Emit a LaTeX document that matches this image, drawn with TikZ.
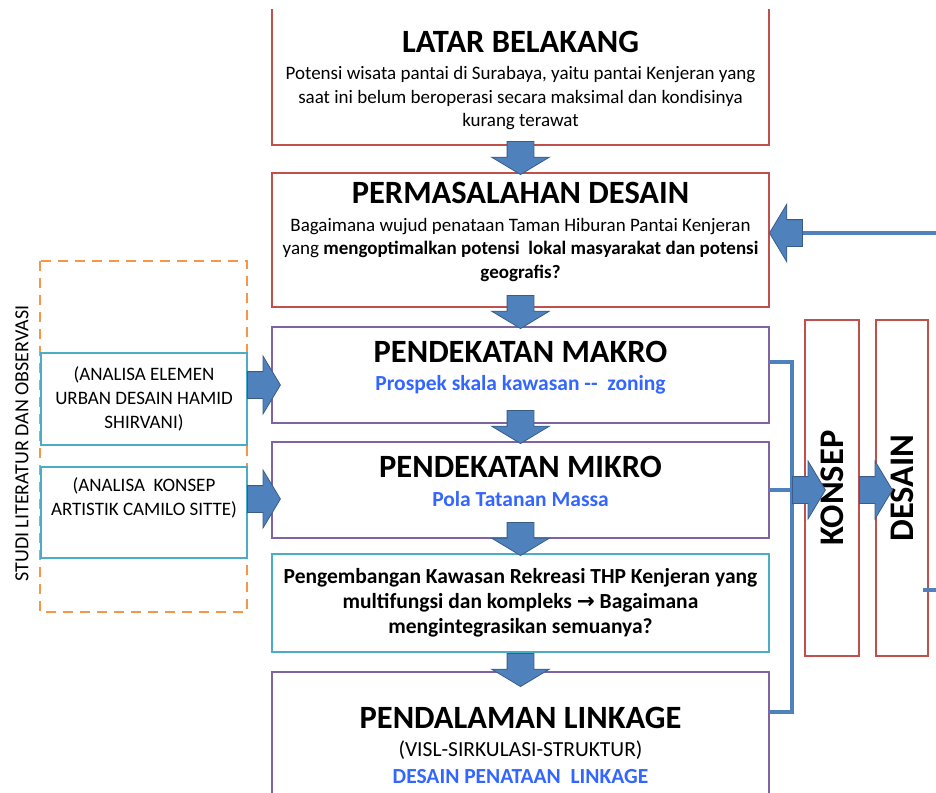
\documentclass[tikz,border=0pt]{standalone}
\usepackage{fontspec}
\setmainfont{Carlito}
\newfontfamily\symfont{DejaVu Sans}
\usetikzlibrary{positioning,calc,shapes.arrows}

\definecolor{boxred}{HTML}{C0504D}
\definecolor{boxpurple}{HTML}{8064A2}
\definecolor{boxcyan}{HTML}{4BACC6}
\definecolor{dashorange}{HTML}{F79646}
\definecolor{arrowfill}{HTML}{4F81BD}
\definecolor{arrowline}{HTML}{385D8A}
\definecolor{subblue}{RGB}{51,102,255}

\begin{document}
\begin{tikzpicture}[
	x=1pt, y=-1pt,
	box/.style={
		draw,
		line width=2.4pt,
		minimum width=497pt,
		inner sep=0pt,
		outer sep=0pt,
		fill=white
	},
	redbox/.style={box, draw=boxred},
	purplebox/.style={box, draw=boxpurple},
	cyanbox/.style={box, draw=boxcyan},
	ttl/.style={font=\fontsize{32.5}{36}\selectfont\bfseries},
	bodytxt/.style={font=\fontsize{19}{23.5}\selectfont, align=center},
	subtxt/.style={font=\fontsize{21.5}{24}\selectfont\bfseries, text=subblue},
	blk/.style={
		single arrow,
		draw=arrowline,
		fill=arrowfill,
		line width=0.8pt,
		inner sep=0pt,
		minimum height=33pt,
		text height=26pt,
		text depth=0pt,
		single arrow tip angle=118,
		single arrow head extend=15.5pt
	},
	bline/.style={draw=arrowfill, line width=4pt}
	]
	
	\useasboundingbox (0,0) rectangle (936,792);
	
	% main column
	\begin{scope}
		\clip (0,10) rectangle (936,792);
		\node[redbox, minimum height=160pt, anchor=south] (lb) at (520.5,145) {};
	\end{scope}
	\node[redbox, minimum height=134pt, below=28pt of lb] (pd) {};
	\node[purplebox, minimum height=96pt, below=20pt of pd] (makro) {};
	\node[purplebox, minimum height=96pt, below=19pt of makro] (mikro) {};
	\node[cyanbox, minimum height=98pt, below=16pt of mikro,
		font=\fontsize{21.5}{25}\selectfont\bfseries, align=center] (peng)
		{Pengembangan Kawasan Rekreasi THP Kenjeran yang\\
		multifungsi dan kompleks {\symfont →} Bagaimana\\
		mengintegrasikan semuanya?};
	\node[purplebox, minimum height=148pt, below=20pt of peng] (linkage) {};
	
	% texts
	\node[ttl] (lbT) at ($(lb.south)+(0,-103)$) {LATAR BELAKANG};
	\node[bodytxt] (lbB) at ($(lb.south)+(0,-46.5)$)
		{Potensi wisata pantai di Surabaya, yaitu pantai Kenjeran yang\\
		saat ini belum beroperasi secara maksimal dan kondisinya\\
		kurang terawat};
	\node[ttl] (pdT) at ($(pd.north)+(0,20)$) {PERMASALAHAN DESAIN};
	\node[bodytxt] (pdB) at ($(pd.north)+(0,77)$)
		{Bagaimana wujud penataan Taman Hiburan Pantai Kenjeran\\
		yang \textbf{mengoptimalkan potensi\ \ lokal masyarakat dan potensi}\\
		\textbf{geografis?}};
	\node[ttl] (mkT) at ($(makro.north)+(0,25)$) {PENDEKATAN MAKRO};
	\node[subtxt] (mkSub) at ($(makro.north)+(0,58)$) {Prospek skala kawasan -{}-\ \ zoning};
	\node[ttl] (miT) at ($(mikro.north)+(0,25)$) {PENDEKATAN MIKRO};
	\node[subtxt] (miSub) at ($(mikro.north)+(0,57)$) {Pola Tatanan Massa};
	\node[ttl] (lkT) at ($(linkage.north)+(0,46)$) {PENDALAMAN LINKAGE};
	\node[font=\fontsize{21.5}{24}\selectfont] (lkSub) at ($(linkage.north)+(0,78)$) {(VISL-SIRKULASI-STRUKTUR)};
	\node[subtxt] (lkDes) at ($(linkage.north)+(0,105)$) {DESAIN PENATAAN\ \ LINKAGE};
	
	% left column
	\draw[dashorange, line width=2.6pt, dash pattern=on 10pt off 7pt] (40,261) rectangle (247,612);
	\node[rotate=90, font=\fontsize{20}{24}\selectfont] (studi) at (22,443.5) {STUDI LITERATUR DAN OBSERVASI};
	\node[cyanbox, minimum width=206pt, minimum height=92pt,
		font=\fontsize{19}{24}\selectfont, align=center] (cy1) at (144,399)
		{(ANALISA ELEMEN\\URBAN DESAIN HAMID\\SHIRVANI)};
	\node[cyanbox, minimum width=206pt, minimum height=91pt,
		font=\fontsize{19}{24}\selectfont, align=center] (cy2) at (144,512.5)
		{(ANALISA\ \ KONSEP\\ARTISTIK CAMILO SITTE)\\\strut};
	
	% right column
	\node[redbox, minimum width=54pt, minimum height=336pt,
		font=\fontsize{34.5}{36}\selectfont\bfseries] (konsep) at (832,488) {\rotatebox{90}{KONSEP}};
	\node[redbox, minimum width=52pt, minimum height=336pt,
		font=\fontsize{34.5}{36}\selectfont\bfseries] (desain) at (902,488) {\rotatebox{90}{DESAIN}};
	
	% block arrows
	\node[blk, rotate=-90, anchor=tip] (a1) at ($(pd.north)+(0,2)$) {};
	\node[blk, rotate=-90, anchor=tip] (a2) at ($(makro.north)+(0,2)$) {};
	\node[blk, rotate=-90, anchor=tip] (a3) at ($(mikro.north)+(0,2)$) {};
	\node[blk, rotate=-90, anchor=tip] (a4) at ($(peng.north)+(0,2)$) {};
	\node[blk, rotate=-90, anchor=tip] (a5) at ($(linkage.north)+(0,15)$) {};
	\node[blk, anchor=tail] (a6) at (cy1.east |- mkSub) {};
	\node[blk, anchor=tail] (a7) at (cy2.east |- miSub) {};
	
	% bracket to konsep
	\coordinate (brk) at (792,0);
	\draw[bline] ($(makro.east)+(0,-13)$) -| ($(brk |- linkage.north)+(0,40)$)
		-- ($(linkage.north east)+(0,40)$);
	\draw[bline] (mikro.east) -- (mikro.east -| brk);
	\node[blk, anchor=tail] (ak) at (mikro.east -| brk) {};
	\node[blk, anchor=tail] (akd) at (konsep.east |- ak) {};
	
	% feedback
	\coordinate (fbIn) at (940,236);
	\coordinate (fbOut) at (940,590);
	\node[blk, rotate=180, anchor=tip] (afb) at ($(pd.east)+(0,-7)$) {};
	\draw[bline] (afb.tail) -- (afb.tail -| fbIn);
	\draw[bline] ($(desain.east |- fbOut)+(-5,0)$) -- (fbOut);
	
\end{tikzpicture}
\end{document}
